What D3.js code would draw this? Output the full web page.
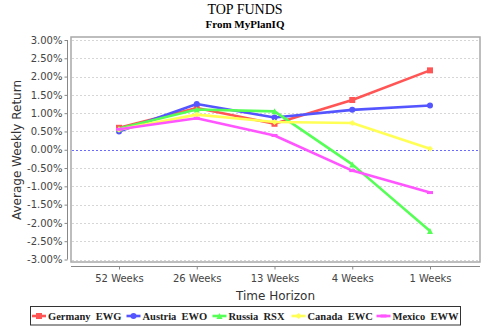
<!DOCTYPE html>
<html><head><meta charset="utf-8">
<script src="https://cdn.jsdelivr.net/npm/d3@7"></script>
<style>body{margin:0;background:#fff}svg{display:block}</style>
</head><body>
<svg id="c" width="490" height="326"></svg>
<script>
const categories = ["52 Weeks","26 Weeks","13 Weeks","4 Weeks","1 Weeks"];
const seriesNames = ["Germany  EWG","Austria  EWO","Russia  RSX","Canada  EWC","Mexico  EWW"];
const germany = [0.60, 1.14, 0.71, 1.36, 2.17];
const austria = [0.50, 1.25, 0.88, 1.09, 1.21];
const russia  = [0.58, 1.10, 1.05, -0.40, -2.22];
const canada  = [0.55, 0.96, 0.76, 0.73, 0.03];
const mexico  = [0.56, 0.86, 0.39, -0.57, -1.17];
const yTicks = [3,2.5,2,1.5,1,0.5,0,-0.5,-1,-1.5,-2,-2.5,-3];
const colors = ["#FF5555","#5555FF","#55FF55","#FFFF55","#FF55FF"];
const shapes = ["square","circle","triangle","diamond","hrect"];
const allSeries = [germany, austria, russia, canada, mexico];

const svg = d3.select("#c");
const P = {l:71, r:480, t:37, b:262};
const x = d3.scalePoint().domain(categories).range([119, 430]);
const y = d3.scaleLinear().domain([-3, 3]).range([259.5, 40]);

// titles
svg.append("text").attr("x",245).attr("y",14).attr("text-anchor","middle")
  .attr("font-family","Liberation Serif").attr("font-size",14).text("TOP FUNDS");
svg.append("text").attr("x",245).attr("y",28).attr("text-anchor","middle")
  .attr("font-family","Liberation Serif").attr("font-weight","bold").attr("font-size",11).text("From MyPlanIQ");

// gridlines
svg.append("g").selectAll("line").data(yTicks.filter(d=>d!==0)).join("line")
  .attr("x1",P.l+1).attr("x2",P.r-1).attr("y1",d=>Math.round(y(d))+0.5).attr("y2",d=>Math.round(y(d))+0.5)
  .attr("stroke","#d6d6d6").attr("stroke-width",1).attr("stroke-dasharray","2,2");
svg.append("line").attr("x1",P.l+1).attr("x2",P.r-1).attr("y1",Math.round(y(0))+0.5).attr("y2",Math.round(y(0))+0.5)
  .attr("stroke","#6a6aff").attr("stroke-width",1).attr("stroke-dasharray","2,2");

// frame
svg.append("rect").attr("x",P.l).attr("y",P.t).attr("width",P.r-P.l).attr("height",P.b-P.t)
  .attr("fill","none").attr("stroke","#a8a8a8").attr("stroke-width",1.5);

// y axis
const yAxis = d3.axisLeft(y).tickValues(yTicks).tickFormat(d=>d3.format(".2f")(d).replace("−","-")+"%").tickSize(3).tickPadding(2);
const gy = svg.append("g").attr("transform","translate(67.5,0)").call(yAxis);
gy.select(".domain").attr("stroke","#888").attr("d","M0,"+y(3)+"V"+y(-3));
gy.selectAll(".tick line").attr("stroke","#888");
gy.selectAll("text").attr("font-family","DejaVu Sans").attr("font-size",10).attr("fill","#444");

// x axis
const xAxis = d3.axisBottom(x).tickSize(3).tickPadding(5);
const gx = svg.append("g").attr("transform","translate(0,266.5)").call(xAxis);
gx.select(".domain").attr("stroke","#888").attr("d","M"+P.l+",0H"+P.r);
gx.selectAll(".tick line").attr("stroke","#888");
gx.selectAll("text").attr("font-family","DejaVu Sans").attr("font-size",10).attr("fill","#444");

// axis titles
svg.append("text").attr("x",275.5).attr("y",300).attr("text-anchor","middle")
  .attr("font-family","DejaVu Sans").attr("font-size",12).attr("fill","#333").text("Time Horizon");
svg.append("text").attr("transform","translate(20.5,150) rotate(-90)").attr("text-anchor","middle")
  .attr("font-family","DejaVu Sans").attr("font-size",12).attr("fill","#333").text("Average Weekly Return");

function marker(g, shape, cx, cy, color){
  const s = 3;
  let el;
  if(shape==="square") el = g.append("rect").attr("x",cx-s).attr("y",cy-s).attr("width",2*s).attr("height",2*s);
  else if(shape==="circle") el = g.append("circle").attr("cx",cx).attr("cy",cy).attr("r",s);
  else if(shape==="triangle") el = g.append("path").attr("d",`M${cx},${cy-s}L${cx+s},${cy+s}L${cx-s},${cy+s}Z`);
  else if(shape==="diamond") el = g.append("path").attr("d",`M${cx},${cy-s}L${cx+s},${cy}L${cx},${cy+s}L${cx-s},${cy}Z`);
  else el = g.append("rect").attr("x",cx-s).attr("y",cy-s/2).attr("width",2*s).attr("height",s);
  el.attr("fill",color);
}

const line = d3.line().x((d,i)=>x(categories[i])).y(d=>y(d));
allSeries.forEach((vals,si)=>{
  const g = svg.append("g");
  g.append("path").datum(vals).attr("d",line).attr("fill","none")
    .attr("stroke",colors[si]).attr("stroke-width",2.6).attr("stroke-linejoin","round");
  vals.forEach((v,i)=>marker(g, shapes[si], x(categories[i]), y(v), colors[si]));
});

// legend
const lg = svg.append("g");
lg.append("rect").attr("x",30.5).attr("y",306.5).attr("width",430).attr("height",18.5)
  .attr("fill","#fff").attr("stroke","#333").attr("stroke-width",1);
const itemX = [32, 126.5, 212.5, 291.5, 376.5];
seriesNames.forEach((name,si)=>{
  const ix = itemX[si];
  lg.append("line").attr("x1",ix).attr("x2",ix+14).attr("y1",316).attr("y2",316)
    .attr("stroke",colors[si]).attr("stroke-width",2.6);
  marker(lg, shapes[si], ix+7, 316, colors[si]);
  lg.append("text").attr("x",ix+16).attr("y",319.5).attr("font-family","Liberation Serif")
    .attr("font-weight","bold").attr("font-size",10.5).attr("fill","#222")
    .style("white-space","pre").text(name);
});
</script>
</body></html>
